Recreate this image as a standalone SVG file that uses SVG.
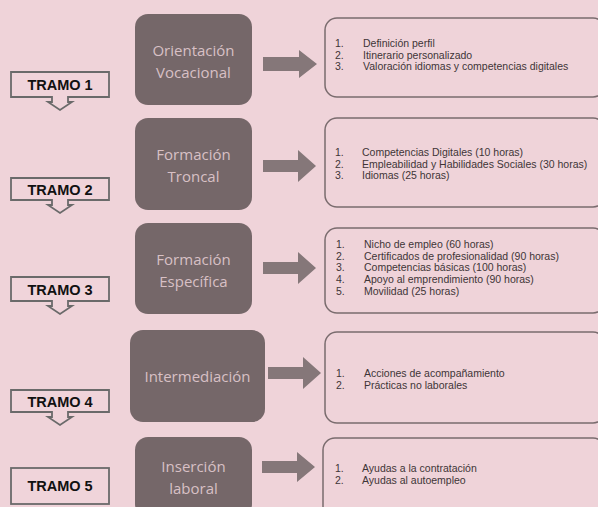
<svg xmlns="http://www.w3.org/2000/svg" width="598" height="507" viewBox="0 0 598 507">
<style>
.node{fill:#756769}
.ntxt{font-family:"Open Sans","Liberation Sans",sans-serif;font-size:15px;fill:#d8c0c5;text-anchor:middle}
.lst{fill:none;stroke:#7a6c6e;stroke-width:1.5}
.ltxt{font-family:"Liberation Sans",Arial,sans-serif;font-size:10.5px;fill:#3e3537}
.tr{fill:#f0d4da;stroke:#6a6a6a;stroke-width:1.8}
.ttxt{font-family:"Liberation Sans",Arial,sans-serif;font-size:14.5px;font-weight:bold;fill:#111;text-anchor:middle}
.arr{fill:#857779}
</style>
<rect width="598" height="507" fill="#efd3d9"/>

<g id="tramo1"><path class="tr" d="M11,72 H109 V97 H68 V102 H72 L60,110 L48,102 H52 V97 H11 Z"/><text class="ttxt" x="60" y="90">TRAMO 1</text></g>
<g id="tramo2"><path class="tr" d="M11,178 H109 V200 H68 V205 H72 L60,213 L48,205 H52 V200 H11 Z"/><text class="ttxt" x="60" y="195">TRAMO 2</text></g>
<g id="tramo3"><path class="tr" d="M11,277 H109 V301 H68 V306 H72 L60,314 L48,306 H52 V301 H11 Z"/><text class="ttxt" x="60" y="295">TRAMO 3</text></g>
<g id="tramo4"><path class="tr" d="M11,390 H109 V412 H68 V417 H72 L60,425 L48,417 H52 V412 H11 Z"/><text class="ttxt" x="60" y="407">TRAMO 4</text></g>
<g id="tramo5"><rect class="tr" x="11" y="468" width="98" height="36"/><text class="ttxt" x="60" y="491">TRAMO 5</text></g>

<g id="n1"><rect class="node" x="135" y="14" width="117" height="91" rx="13"/><text class="ntxt" x="193.5" y="56">Orientación</text><text class="ntxt" x="193.5" y="78">Vocacional</text></g>
<g id="n2"><rect class="node" x="135" y="118" width="117" height="92" rx="13"/><text class="ntxt" x="193.5" y="160">Formación</text><text class="ntxt" x="193.5" y="182">Troncal</text></g>
<g id="n3"><rect class="node" x="135" y="223" width="117" height="91" rx="13"/><text class="ntxt" x="193.5" y="265">Formación</text><text class="ntxt" x="193.5" y="287">Específica</text></g>
<g id="n4"><rect class="node" x="130" y="330" width="135" height="92" rx="13"/><text class="ntxt" x="197.5" y="382">Intermediación</text></g>
<g id="n5"><rect class="node" x="135" y="437" width="117" height="80" rx="13"/><text class="ntxt" x="193.5" y="472">Inserción</text><text class="ntxt" x="193.5" y="494">laboral</text></g>

<g id="connectors">
<path class="arr" d="M263,57 H299 V50 L317,64 L299,78 V71 H263 Z"/>
<path class="arr" d="M263,160 H298 V150 L316,166 L298,182 V172 H263 Z"/>
<path class="arr" d="M263,262 H298 V252 L316,268 L298,284 V274 H263 Z"/>
<path class="arr" d="M268,367 H303 V357 L321,373 L303,389 V379 H268 Z"/>
<path class="arr" d="M262,461 H297 V452 L315,467 L297,482 V473 H262 Z"/>
</g>

<g id="l1"><rect class="lst" x="325" y="18" width="280" height="79" rx="12"/>
<text class="ltxt" x="335" y="47">1.</text><text class="ltxt" x="363" y="47">Definición perfil</text>
<text class="ltxt" x="335" y="58.5">2.</text><text class="ltxt" x="363" y="58.5">Itinerario personalizado</text>
<text class="ltxt" x="335" y="70">3.</text><text class="ltxt" x="363" y="70">Valoración idiomas y competencias digitales</text></g>

<g id="l2"><rect class="lst" x="325" y="118" width="280" height="89" rx="12"/>
<text class="ltxt" x="335" y="156">1.</text><text class="ltxt" x="362" y="156">Competencias Digitales (10 horas)</text>
<text class="ltxt" x="335" y="167.5">2.</text><text class="ltxt" x="362" y="167.5">Empleabilidad y Habilidades Sociales (30 horas)</text>
<text class="ltxt" x="335" y="179">3.</text><text class="ltxt" x="362" y="179">Idiomas (25 horas)</text></g>

<g id="l3"><rect class="lst" x="325" y="228" width="280" height="85" rx="12"/>
<text class="ltxt" x="336" y="248">1.</text><text class="ltxt" x="364" y="248">Nicho de empleo (60 horas)</text>
<text class="ltxt" x="336" y="259.7">2.</text><text class="ltxt" x="364" y="259.7">Certificados de profesionalidad (90 horas)</text>
<text class="ltxt" x="336" y="271.4">3.</text><text class="ltxt" x="364" y="271.4">Competencias básicas (100 horas)</text>
<text class="ltxt" x="336" y="283.1">4.</text><text class="ltxt" x="364" y="283.1">Apoyo al emprendimiento (90 horas)</text>
<text class="ltxt" x="336" y="294.8">5.</text><text class="ltxt" x="364" y="294.8">Movilidad (25 horas)</text></g>

<g id="l4"><rect class="lst" x="325" y="332" width="280" height="91" rx="12"/>
<text class="ltxt" x="336" y="377">1.</text><text class="ltxt" x="364" y="377">Acciones de acompañamiento</text>
<text class="ltxt" x="336" y="389">2.</text><text class="ltxt" x="364" y="389">Prácticas no laborales</text></g>

<g id="l5"><rect class="lst" x="323" y="438" width="282" height="80" rx="12"/>
<text class="ltxt" x="335" y="472">1.</text><text class="ltxt" x="362" y="472">Ayudas a la contratación</text>
<text class="ltxt" x="335" y="484">2.</text><text class="ltxt" x="362" y="484">Ayudas al autoempleo</text></g>
</svg>
